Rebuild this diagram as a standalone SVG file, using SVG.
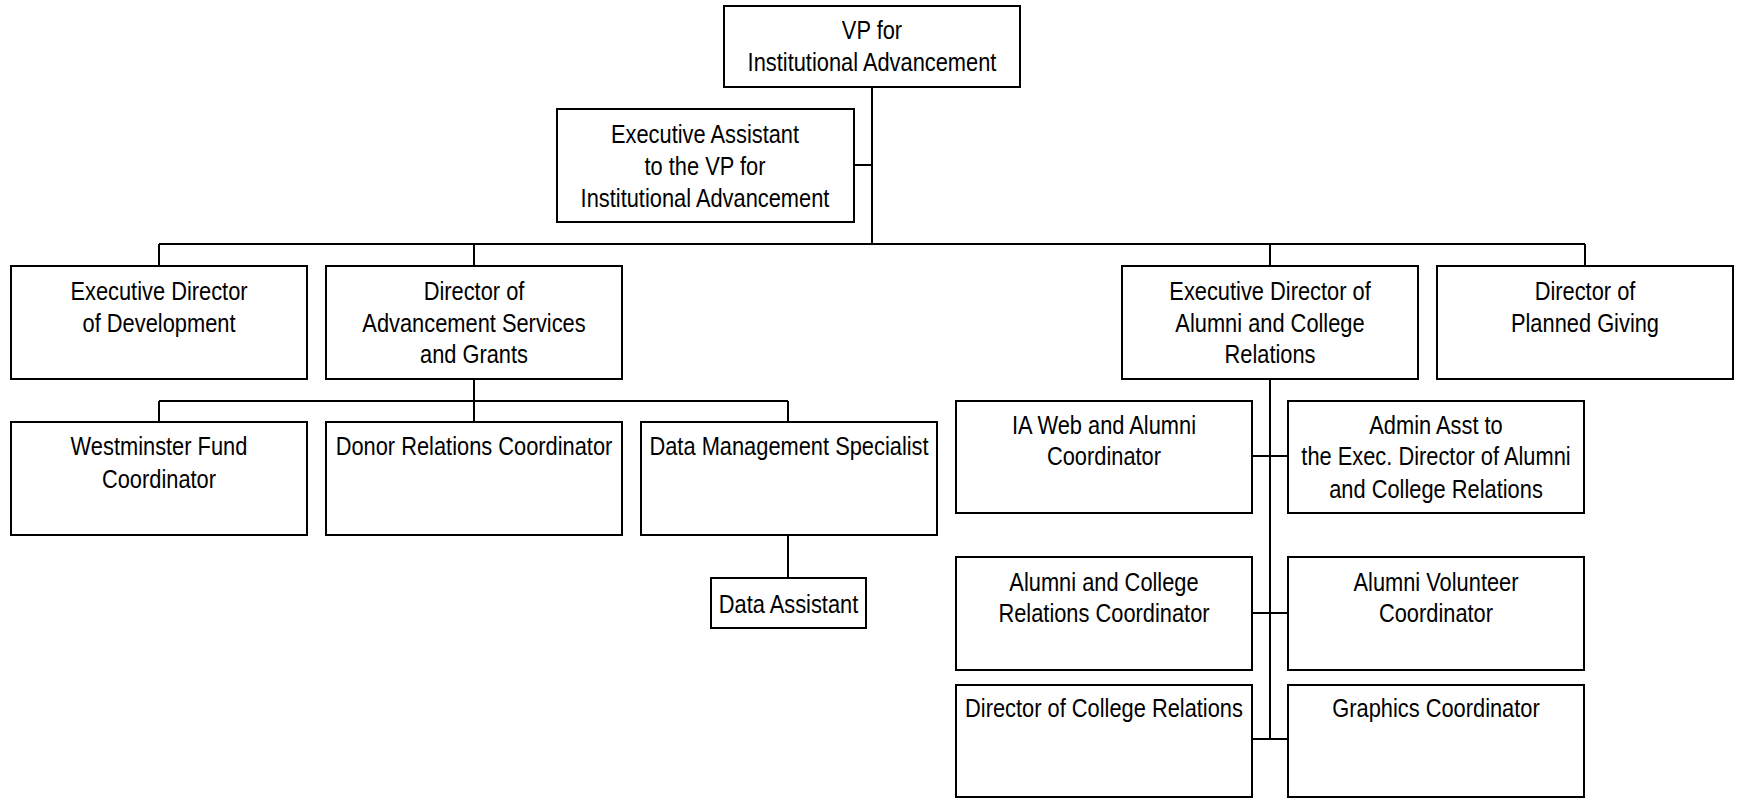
<svg xmlns="http://www.w3.org/2000/svg" width="1741" height="798" viewBox="0 0 1741 798">
  <style>
    .box { fill: #ffffff; stroke: #000000; stroke-width: 2; }
    .wire { fill: none; stroke: #000000; stroke-width: 2; }
    text { font-family: "Liberation Sans Narrow", "Arial Narrow", "Liberation Sans", sans-serif; font-size: 26px; fill: #000000; text-anchor: middle;
           transform-box: fill-box; transform-origin: center; transform: scaleX(0.84); }
  </style>
  <rect width="1741" height="798" fill="#ffffff"/>

  <g id="connectors">
    <path class="wire" d="M872 87 V244 M854 165 H872"/>
    <path class="wire" d="M159 244 H1585 M159 244 V266 M474 244 V266 M1270 244 V266 M1585 244 V266"/>
    <path class="wire" d="M474 379 V422 M159 401 H788 M159 401 V422 M788 401 V422"/>
    <path class="wire" d="M788 535 V578"/>
    <path class="wire" d="M1270 379 V739 M1252 456 H1288 M1252 613 H1288 M1252 739 H1288"/>
  </g>

  <g id="vp">
    <rect class="box" x="724" y="6" width="296" height="81"/>
    <text x="872" y="39">VP for</text>
    <text x="872" y="71">Institutional Advancement</text>
  </g>
  <g id="exec-assistant">
    <rect class="box" x="557" y="109" width="297" height="113"/>
    <text x="705" y="143">Executive Assistant</text>
    <text x="705" y="175">to the VP for</text>
    <text x="705" y="207">Institutional Advancement</text>
  </g>

  <g id="exec-dir-development">
    <rect class="box" x="11" y="266" width="296" height="113"/>
    <text x="159" y="300">Executive Director</text>
    <text x="159" y="332">of Development</text>
  </g>
  <g id="dir-advancement-services">
    <rect class="box" x="326" y="266" width="296" height="113"/>
    <text x="474" y="300">Director of</text>
    <text x="474" y="332">Advancement Services</text>
    <text x="474" y="363">and Grants</text>
  </g>
  <g id="exec-dir-alumni">
    <rect class="box" x="1122" y="266" width="296" height="113"/>
    <text x="1270" y="300">Executive Director of</text>
    <text x="1270" y="332">Alumni and College</text>
    <text x="1270" y="363">Relations</text>
  </g>
  <g id="dir-planned-giving">
    <rect class="box" x="1437" y="266" width="296" height="113"/>
    <text x="1585" y="300">Director of</text>
    <text x="1585" y="332">Planned Giving</text>
  </g>

  <g id="westminster-fund">
    <rect class="box" x="11" y="422" width="296" height="113"/>
    <text x="159" y="455">Westminster Fund</text>
    <text x="159" y="488">Coordinator</text>
  </g>
  <g id="donor-relations">
    <rect class="box" x="326" y="422" width="296" height="113"/>
    <text x="474" y="455">Donor Relations Coordinator</text>
  </g>
  <g id="data-management">
    <rect class="box" x="641" y="422" width="296" height="113"/>
    <text x="789" y="455">Data Management Specialist</text>
  </g>
  <g id="data-assistant">
    <rect class="box" x="711" y="578" width="155" height="50"/>
    <text x="788.5" y="613">Data Assistant</text>
  </g>

  <g id="ia-web">
    <rect class="box" x="956" y="401" width="296" height="112"/>
    <text x="1104" y="434">IA Web and Alumni</text>
    <text x="1104" y="465">Coordinator</text>
  </g>
  <g id="admin-asst">
    <rect class="box" x="1288" y="401" width="296" height="112"/>
    <text x="1436" y="434">Admin Asst to</text>
    <text x="1436" y="465">the Exec. Director of Alumni</text>
    <text x="1436" y="498">and College Relations</text>
  </g>
  <g id="alumni-college-coord">
    <rect class="box" x="956" y="557" width="296" height="113"/>
    <text x="1104" y="591">Alumni and College</text>
    <text x="1104" y="622">Relations Coordinator</text>
  </g>
  <g id="alumni-volunteer">
    <rect class="box" x="1288" y="557" width="296" height="113"/>
    <text x="1436" y="591">Alumni Volunteer</text>
    <text x="1436" y="622">Coordinator</text>
  </g>
  <g id="dir-college-relations">
    <rect class="box" x="956" y="685" width="296" height="112"/>
    <text x="1104" y="717">Director of College Relations</text>
  </g>
  <g id="graphics-coord">
    <rect class="box" x="1288" y="685" width="296" height="112"/>
    <text x="1436" y="717">Graphics Coordinator</text>
  </g>
</svg>
